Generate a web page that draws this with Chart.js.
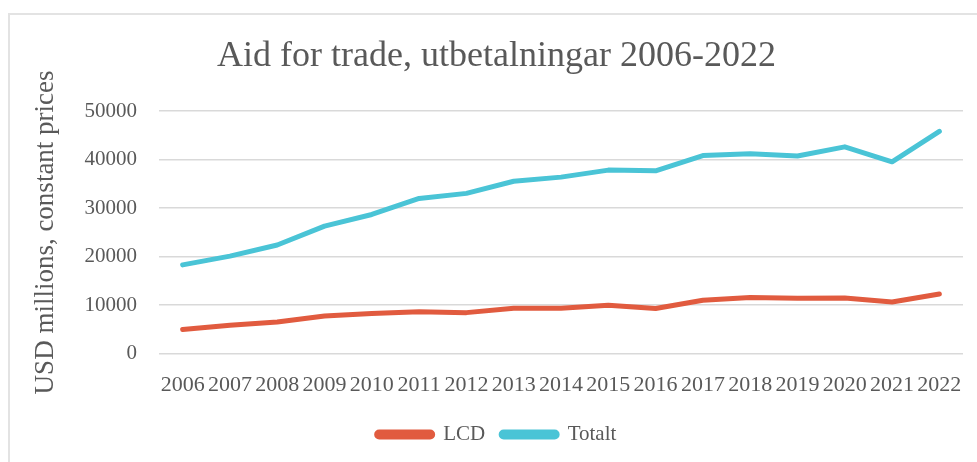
<!DOCTYPE html>
<html>
  <head>
    <script src="https://cdn.jsdelivr.net/npm/chart.js"></script>
    <title>Aid for trade</title>
    <style>
      body {
        margin: 0;
        background-color: white;
        overflow: hidden;
      }
      .frame {
        position: absolute;
        left: 8px;
        top: 13px;
        width: 1000px;
        height: 500px;
        border: 2px solid #e3e3e3;
      }
      .wrap {
        position: absolute;
        left: 0;
        top: 0;
        width: 977px;
        height: 462px;
      }
    </style>
  </head>
  <body>
    <div class="frame"></div>
    <div class="wrap">
      <canvas id="aidChart" width="977" height="462"></canvas>
    </div>

<script>
  // years and disbursements (USD millions, constant prices)
  const years = ['2006', '2007', '2008', '2009', '2010', '2011', '2012', '2013', '2014',
                 '2015', '2016', '2017', '2018', '2019', '2020', '2021', '2022'];
  const lcd = [4950, 5850, 6500, 7750, 8250, 8650, 8450, 9350, 9350,
               9950, 9300, 11000, 11550, 11400, 11450, 10650, 12300];
  const totalt = [18300, 20100, 22400, 26300, 28700, 32000, 33050, 35550, 36400,
                  37850, 37700, 40850, 41200, 40750, 42650, 39550, 45850];
  const yTicks = [0, 10000, 20000, 30000, 40000, 50000];

  const textColor = '#595959';
  const serif = "'Liberation Serif', 'DejaVu Serif', serif";

  const ctx = document.getElementById('aidChart').getContext('2d');
  const chart = new Chart(ctx, {
    type: 'line',
    data: {
      labels: years,
      datasets: [
        {
          label: 'LCD',
          data: lcd,
          borderColor: '#E15B3F',
          backgroundColor: '#E15B3F',
          borderWidth: 5,
          pointRadius: 0,
          borderCapStyle: 'round',
          borderJoinStyle: 'round',
          tension: 0,
          fill: false,
        },
        {
          label: 'Totalt',
          data: totalt,
          borderColor: '#4AC4D6',
          backgroundColor: '#4AC4D6',
          borderWidth: 5,
          pointRadius: 0,
          borderCapStyle: 'round',
          borderJoinStyle: 'round',
          tension: 0,
          fill: false,
        },
      ],
    },
    options: {
      responsive: false,
      animation: false,
      layout: {
        padding: { left: 30, right: 14, top: 0, bottom: 7 },
      },
      plugins: {
        title: {
          display: true,
          text: 'Aid for trade, utbetalningar 2006-2022',
          color: textColor,
          font: { family: serif, size: 36, weight: 'normal' },
          padding: { top: 35, bottom: 33 },
        },
        legend: {
          position: 'bottom',
          labels: {
            color: textColor,
            font: { family: serif, size: 21 },
            boxWidth: 56,
            boxHeight: 5,
            useBorderRadius: true,
            borderRadius: 2.5,
            padding: 16,
          },
        },
        tooltip: { enabled: false },
      },
      scales: {
        x: {
          offset: true,
          grid: { display: false },
          border: { display: false },
          ticks: {
            color: textColor,
            font: { family: serif, size: 22 },
            padding: 10,
            autoSkip: false,
            maxRotation: 0,
          },
        },
        y: {
          min: 0,
          max: 50000,
          afterBuildTicks: (axis) => {
            axis.ticks = yTicks.map(v => ({ value: v }));
          },
          afterFit: (axis) => {
            axis.width = 129;
          },
          grid: { color: '#d9d9d9', lineWidth: 1.5, drawTicks: false },
          border: { display: false },
          ticks: {
            color: textColor,
            font: { family: serif, size: 21 },
            padding: 22,
            callback: (v) => String(v),
          },
          title: {
            display: true,
            text: 'USD millions, constant prices',
            color: textColor,
            font: { family: serif, size: 27 },
            padding: { top: 0, bottom: 0 },
          },
        },
      },
    },
  });
</script>
  </body>
</html>
